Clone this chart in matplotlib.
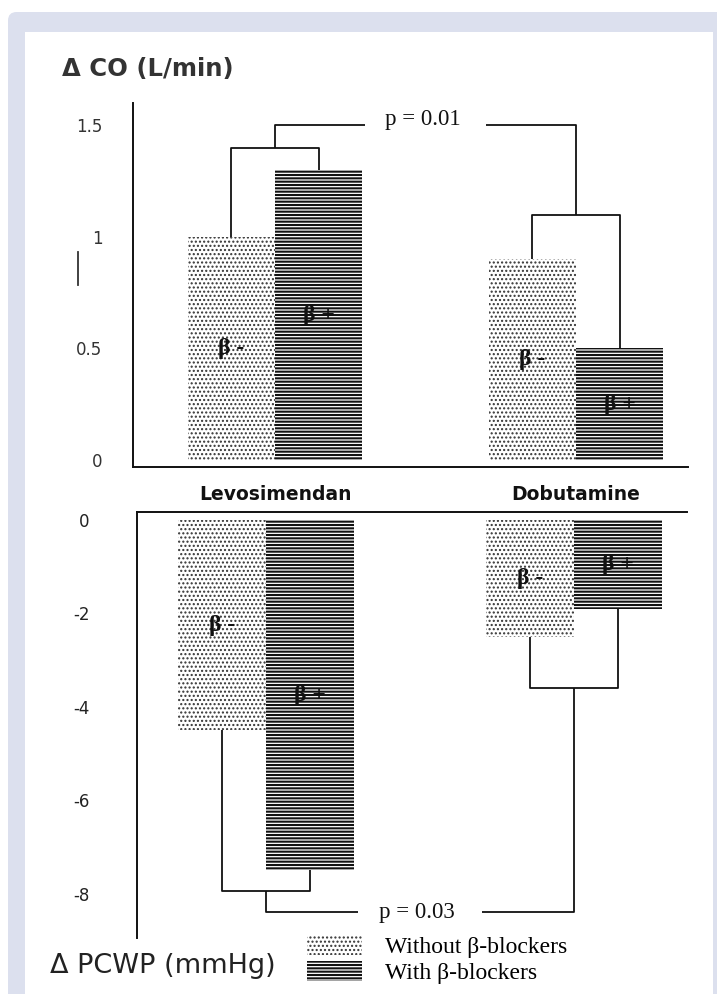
import numpy as np
import matplotlib
matplotlib.use("Agg")
import matplotlib.pyplot as plt
from matplotlib.patches import Patch, Rectangle, FancyBboxPatch
from matplotlib.lines import Line2D

# values
drugs = ["Levosimendan", "Dobutamine"]
co_without = [1.0, 0.9]      # delta CO, without beta-blockers
co_with = [1.3, 0.5]         # delta CO, with beta-blockers
pcwp_without = [-4.5, -2.5]  # delta PCWP, without beta-blockers
pcwp_with = [-7.5, -1.9]     # delta PCWP, with beta-blockers
co_ticks = [0, 0.5, 1, 1.5]
co_tick_labels = ["0", "0.5", "1", "1.5"]
pcwp_ticks = [0, -2, -4, -6, -8]
pcwp_tick_labels = ["0", "-2", "-4", "-6", "-8"]
p_co = "p = 0.01"
p_pcwp = "p = 0.03"
bar_labels = ["β -", "β +"]
legend_labels = ["Without β-blockers", "With β-blockers"]

W, H = 717, 994
fig = plt.figure(figsize=(W / 100, H / 100), dpi=100)
fig.patch.set_facecolor("white")


def fx(px):
    return px / W


def fy(py):
    return 1 - py / H


# grey frame + white panel
fig.patches.append(FancyBboxPatch((fx(8), -0.05), fx(740) - fx(8), fy(12) + 0.05,
                                  boxstyle="round,pad=0,rounding_size=0.012",
                                  mutation_aspect=W / H,
                                  transform=fig.transFigure, facecolor="#dce0ee",
                                  edgecolor="none", zorder=-2))
fig.patches.append(Rectangle((fx(25), -0.01), fx(713) - fx(25), fy(32) + 0.01,
                             transform=fig.transFigure, facecolor="white",
                             edgecolor="none", zorder=-1))

dots = dict(facecolor="white", edgecolor="#333333", hatch="....", linewidth=0)
lines = dict(facecolor="white", edgecolor="#111111", hatch="-----", linewidth=0)
DOT_LW, LINE_LW = 1.0, 1.5


def set_hatch_lw(patches, lw):
    for p in patches:
        if hasattr(p, "set_hatch_linewidth"):
            p.set_hatch_linewidth(lw)


beta_font = dict(family="Liberation Serif", fontweight="bold", fontsize=17,
                 ha="center", va="center", color="#111111")
p_font = dict(family="Liberation Serif", fontsize=16.5, ha="center", va="center",
              color="#111111")
line_kw = dict(color="#111111", lw=1.3, clip_on=False, solid_capstyle="butt")

x = np.arange(len(drugs))

# ---------------- top: delta CO ----------------
ax1 = fig.add_axes([fx(133), fy(467), fx(688) - fx(133), (467 - 103) / H])
ax1.set_facecolor("none")
w1 = 0.29
with plt.rc_context({"hatch.linewidth": DOT_LW}):
    b = ax1.bar(x - w1 / 2, co_without, w1, **dots)
set_hatch_lw(b, DOT_LW)
with plt.rc_context({"hatch.linewidth": LINE_LW}):
    b = ax1.bar(x + w1 / 2, co_with, w1, **lines)
set_hatch_lw(b, LINE_LW)
for i in range(len(drugs)):
    ax1.text(x[i] - w1 / 2, co_without[i] / 2, bar_labels[0], **beta_font)
    ax1.text(x[i] + w1 / 2, co_with[i] / 2, bar_labels[1], **beta_font)

join_levo, join_dobu, p_level = 1.4, 1.1, 1.5
gap = 0.2
ax1.plot([x[0] - w1 / 2, x[0] - w1 / 2, x[0] + w1 / 2, x[0] + w1 / 2],
         [co_without[0], join_levo, join_levo, co_with[0]], **line_kw)
ax1.plot([x[1] - w1 / 2, x[1] - w1 / 2, x[1] + w1 / 2, x[1] + w1 / 2],
         [co_without[1], join_dobu, join_dobu, co_with[1]], **line_kw)
mid = (x[0] + x[1]) / 2
ax1.plot([x[0], x[0], mid - gap], [join_levo, p_level, p_level], **line_kw)
ax1.plot([mid + gap, x[1], x[1]], [p_level, p_level, join_dobu], **line_kw)
ax1.text(mid - 0.01, p_level + 0.025, p_co, **p_font)

ax1.set_xlim(-0.472, 1.372)
ax1.set_ylim(-0.031, 1.60)
for s in ["top", "right"]:
    ax1.spines[s].set_visible(False)
for s in ["left", "bottom"]:
    ax1.spines[s].set_linewidth(1.4)
    ax1.spines[s].set_color("#111111")
ax1.set_xticks(x, drugs, fontsize=13.5, fontweight="bold", color="#111111")
ax1.set_yticks(co_ticks, co_tick_labels, fontsize=12, color="#333333")
ax1.tick_params(axis="x", length=0, pad=13)
ax1.tick_params(axis="y", length=0, pad=22)

# ---------------- bottom: delta PCWP ----------------
ax2 = fig.add_axes([fx(137), fy(938), fx(687) - fx(137), (938 - 512) / H])
ax2.set_facecolor("none")
w2 = 0.285
with plt.rc_context({"hatch.linewidth": DOT_LW}):
    b = ax2.bar(x - w2 / 2, pcwp_without, w2, **dots)
set_hatch_lw(b, DOT_LW)
with plt.rc_context({"hatch.linewidth": LINE_LW}):
    b = ax2.bar(x + w2 / 2, pcwp_with, w2, **lines)
set_hatch_lw(b, LINE_LW)
for i in range(len(drugs)):
    ax2.text(x[i] - w2 / 2, pcwp_without[i] / 2, bar_labels[0], **beta_font)
    ax2.text(x[i] + w2 / 2, pcwp_with[i] / 2, bar_labels[1], **beta_font)

join_levo, join_dobu, p_level = -7.95, -3.6, -8.4
ax2.plot([x[0] - w2 / 2, x[0] - w2 / 2, x[0] + w2 / 2, x[0] + w2 / 2],
         [pcwp_without[0], join_levo, join_levo, pcwp_with[0]], **line_kw)
ax2.plot([x[1] - w2 / 2, x[1] - w2 / 2, x[1] + w2 / 2, x[1] + w2 / 2],
         [pcwp_without[1], join_dobu, join_dobu, pcwp_with[1]], **line_kw)
ax2.plot([x[0], x[0], mid - gap], [join_levo, p_level, p_level], **line_kw)
ax2.plot([mid + gap, x[1], x[1]], [p_level, p_level, join_dobu], **line_kw)
ax2.text(mid - 0.01, p_level, p_pcwp, **p_font)

ax2.set_xlim(-0.418, 1.365)
ax2.set_ylim(-8.95, 0.17)
for s in ["bottom", "right"]:
    ax2.spines[s].set_visible(False)
for s in ["left", "top"]:
    ax2.spines[s].set_linewidth(1.4)
    ax2.spines[s].set_color("#111111")
ax2.set_xticks([])
ax2.set_yticks(pcwp_ticks, pcwp_tick_labels, fontsize=12, color="#222222")
ax2.tick_params(axis="y", length=0, pad=34)

# axis titles
fig.text(fx(62), fy(69), "Δ CO (L/min)", ha="left", va="center", fontsize=17.5,
         fontweight="bold", color="#333333")
fig.text(fx(50), fy(966), "Δ PCWP (mmHg)", ha="left", va="center", fontsize=19.5,
         color="#222222")

# stray mark left of the top axis
fig.add_artist(Line2D([fx(78), fx(78)], [fy(252), fy(285)], transform=fig.transFigure,
                      color="#333333", lw=1.3))

# legend
with plt.rc_context({"hatch.linewidth": DOT_LW}):
    h_dots = Patch(**dots)
with plt.rc_context({"hatch.linewidth": LINE_LW}):
    h_lines = Patch(**lines)
set_hatch_lw([h_dots], DOT_LW)
set_hatch_lw([h_lines], LINE_LW)
leg = fig.legend([h_dots, h_lines], legend_labels, loc="upper left",
                 bbox_to_anchor=(fx(307), fy(935)), frameon=False,
                 prop={"family": "Liberation Serif", "size": 17},
                 handlelength=2.35, handleheight=0.9, handletextpad=0.95,
                 labelspacing=0.15, borderpad=0, borderaxespad=0)
for hp, lw in zip(leg.get_patches(), [DOT_LW, LINE_LW]):
    if hasattr(hp, "set_hatch_linewidth"):
        hp.set_hatch_linewidth(lw)

fig.savefig("out.png", dpi=100, facecolor=fig.get_facecolor())
